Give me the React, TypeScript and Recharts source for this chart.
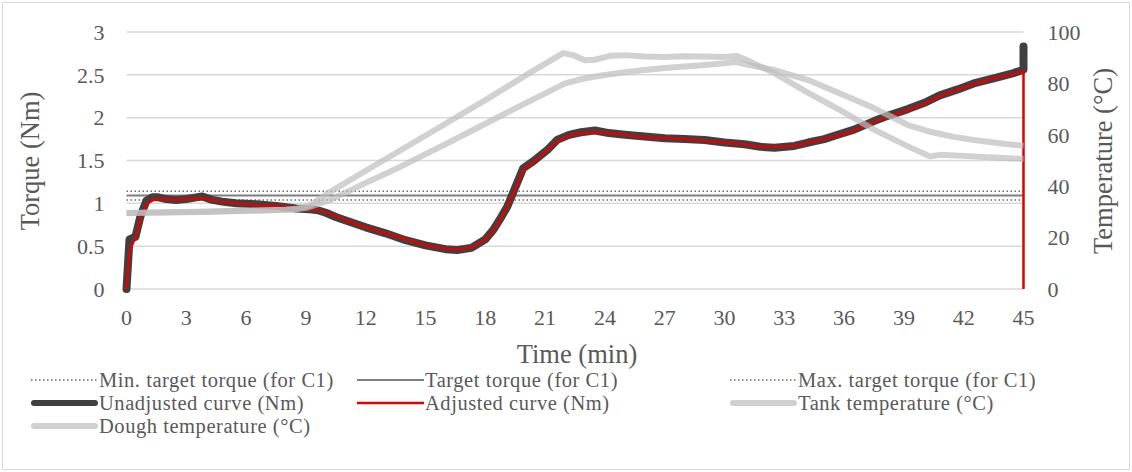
import React from 'react';
import { LineChart, Line, XAxis, YAxis, CartesianGrid } from 'recharts';

// torque curves share one time base; the last time is doubled for the end spike / drop
const torqueTimes = [
  0, 0.15, 0.45, 0.7, 1.0, 1.3, 1.6, 2.0, 2.5, 3.0, 3.5, 3.8, 4.3, 4.8, 5.5, 6.5, 7.5, 8.5,
  9.2, 9.6, 10.0, 10.5, 11, 12, 13, 14, 15, 16, 16.6, 17.3, 18, 18.4, 18.8, 19.1, 19.6, 19.9,
  20.4, 21.1, 21.6, 22.2, 22.8, 23.5, 24.2, 25, 26, 27, 28, 29, 30, 31, 31.8, 32.5, 33.5,
  34.2, 35, 35.8, 36.5, 37.5, 38.3, 39.2, 40, 40.8, 41.7, 42.5, 43.5, 44.5, 45, 45,
];
const unadjustedNm = [
  0, 0.58, 0.61, 0.85, 1.03, 1.07, 1.07, 1.05, 1.04, 1.05, 1.07, 1.08, 1.04, 1.02, 1.0, 0.99, 0.97, 0.94,
  0.93, 0.92, 0.89, 0.84, 0.8, 0.72, 0.65, 0.57, 0.51, 0.465, 0.455, 0.48, 0.58, 0.69, 0.84, 0.96, 1.24, 1.41,
  1.49, 1.62, 1.74, 1.8, 1.83, 1.85, 1.82, 1.8, 1.78, 1.76, 1.75, 1.74, 1.71, 1.69, 1.66, 1.65, 1.67,
  1.71, 1.75, 1.81, 1.86, 1.96, 2.03, 2.1, 2.17, 2.26, 2.33, 2.4, 2.46, 2.52, 2.56, 2.83,
];
const adjustedNm = [
  0, 0.45, 0.6, 0.82, 0.99, 1.04, 1.05, 1.05, 1.04, 1.05, 1.06, 1.06, 1.04, 1.02, 1.0, 0.98, 0.97, 0.95,
  0.93, 0.92, 0.9, 0.85, 0.8, 0.72, 0.65, 0.58, 0.51, 0.47, 0.46, 0.48, 0.58, 0.68, 0.83, 0.96, 1.22, 1.39,
  1.48, 1.62, 1.72, 1.79, 1.82, 1.83, 1.82, 1.8, 1.77, 1.76, 1.75, 1.73, 1.71, 1.69, 1.66, 1.66, 1.67,
  1.71, 1.75, 1.8, 1.85, 1.95, 2.02, 2.09, 2.16, 2.25, 2.33, 2.39, 2.46, 2.51, 2.54, 0,
];

const tankTimes = [
  0, 4, 8, 8.5, 9.2, 10.2, 12, 13.75, 16, 18, 20.1, 21.9, 22.4, 23, 23.5, 24.3, 25, 26, 27, 28, 29,
  30, 30.6, 31, 32.5, 34.2, 35.8, 37.5, 39.2, 40.3, 40.8, 42, 43.5, 45,
];
const tankTemp = [
  29.6, 30.2, 30.8, 31, 32.5, 37.7, 46, 54, 64.3, 73.5, 83.5, 91.8, 91, 89, 89.2, 90.8, 91, 90.5, 90.3, 90.6, 90.5,
  90.3, 90.7, 89.5, 84, 76.3, 69.6, 62, 55.5, 51.6, 52.2, 51.8, 51.2, 50.6,
];

const doughTimes = [
  0, 4, 8, 9, 10.2, 11, 12, 13.75, 14.75, 16, 18, 20, 22, 23, 24, 25, 26, 27, 28, 29, 30, 30.6,
  31, 32.5, 34.2, 35.8, 37.5, 39.2, 40.3, 41.5, 42.5, 44, 45,
];
const doughTemp = [
  29.6, 30, 30.8, 31.5, 34.6, 37.5, 41.3, 47.6, 51.5, 56.3, 64.3, 72.2, 80, 82, 83.3, 84.3, 85.2, 86, 86.6, 87.2, 87.8, 88.3,
  87.5, 85.2, 81.3, 76.1, 70.4, 63.8, 61.2, 59.2, 58, 56.5, 55.7,
];

const targetTorque = [1.04, 1.09, 1.14]; // min, target, max (C1)
const timeRange = [0, 45];

const timeTicks = [0, 3, 6, 9, 12, 15, 18, 21, 24, 27, 30, 33, 36, 39, 42, 45];
const torqueTicks = [0, 0.5, 1, 1.5, 2, 2.5, 3];
const tempTicks = [0, 20, 40, 60, 80, 100];

const torqueData = torqueTimes.map((t, i) => ({ t, unadjusted: unadjustedNm[i], adjusted: adjustedNm[i] }));
const tankData = tankTimes.map((t, i) => ({ t, v: tankTemp[i] }));
const doughData = doughTimes.map((t, i) => ({ t, v: doughTemp[i] }));
const targetLine = (v: number) => timeRange.map((t) => ({ t, v }));

const TEXT = '#595959';
const GRID = '#d9d9d9';
const TEMP = '#bdbdbd';
const FONT = '"Liberation Serif", "Times New Roman", serif';

const tickStyle = { fontSize: 22, fill: TEXT };

type Sample = { stroke: string; width: number; dash?: string; cap?: 'round' | 'butt' };

const legendItems: { label: string; col: number; row: number; s: Sample }[] = [
  { label: 'Min. target torque (for C1)', col: 0, row: 0, s: { stroke: '#6a6a6a', width: 1.5, dash: '1.5 2.5' } },
  { label: 'Target torque (for C1)', col: 1, row: 0, s: { stroke: '#7f7f7f', width: 2 } },
  { label: 'Max. target torque (for C1)', col: 2, row: 0, s: { stroke: '#6a6a6a', width: 1.5, dash: '1.5 2.5' } },
  { label: 'Unadjusted curve (Nm)', col: 0, row: 1, s: { stroke: '#404040', width: 6, cap: 'round' } },
  { label: 'Adjusted curve (Nm)', col: 1, row: 1, s: { stroke: '#e00000', width: 2.5 } },
  { label: 'Tank temperature (°C)', col: 2, row: 1, s: { stroke: '#d0d0d0', width: 6, cap: 'round' } },
  { label: 'Dough temperature (°C)', col: 0, row: 2, s: { stroke: '#d0d0d0', width: 6, cap: 'round' } },
];
const colX = [31, 357, 730];
const rowY = [380, 403, 426];

export default function App() {
  return (
    <div style={{ position: 'relative', width: 1132, height: 472, background: '#fff', fontFamily: FONT, color: TEXT }}>
      <style>{'body{margin:0}'}</style>
      <div
        style={{
          position: 'absolute', left: 2, top: 2, width: 1128, height: 468,
          boxSizing: 'border-box', border: `1.5px solid ${GRID}`,
        }}
      />
      <div style={{ position: 'absolute', left: 0, top: 0 }}>
        <LineChart width={1132} height={340} margin={{ top: 32, right: 48.5, bottom: 21, left: 66.5 }}>
          <CartesianGrid yAxisId="left" vertical={false} stroke={GRID} strokeWidth={1.5} />
          <XAxis
            type="number"
            dataKey="t"
            domain={timeRange}
            ticks={timeTicks}
            interval={0}
            axisLine={false}
            tickLine={false}
            tickSize={0}
            tickMargin={20}
            height={30}
            tick={tickStyle}
          />
          <YAxis
            yAxisId="left"
            domain={[0, 3]}
            ticks={torqueTicks}
            interval={0}
            axisLine={false}
            tickLine={false}
            tickSize={0}
            tickMargin={22}
            width={60}
            tick={tickStyle}
          />
          <YAxis
            yAxisId="right"
            orientation="right"
            domain={[0, 100]}
            ticks={tempTicks}
            interval={0}
            axisLine={false}
            tickLine={false}
            tickSize={0}
            tickMargin={24}
            width={60}
            tick={tickStyle}
          />
          <Line yAxisId="left" data={targetLine(targetTorque[0])} dataKey="v" stroke="#6a6a6a" strokeWidth={1.5} strokeDasharray="1.5 2.5" dot={false} activeDot={false} isAnimationActive={false} />
          <Line yAxisId="left" data={targetLine(targetTorque[1])} dataKey="v" stroke="#7f7f7f" strokeWidth={2} dot={false} activeDot={false} isAnimationActive={false} />
          <Line yAxisId="left" data={targetLine(targetTorque[2])} dataKey="v" stroke="#6a6a6a" strokeWidth={1.5} strokeDasharray="1.5 2.5" dot={false} activeDot={false} isAnimationActive={false} />
          <Line yAxisId="left" data={torqueData} dataKey="unadjusted" stroke="#404040" strokeWidth={8} strokeLinejoin="round" strokeLinecap="round" dot={false} activeDot={false} isAnimationActive={false} />
          <Line yAxisId="left" data={torqueData} dataKey="adjusted" stroke="#e00000" strokeWidth={2.5} dot={false} activeDot={false} isAnimationActive={false} />
          <Line yAxisId="right" data={tankData} dataKey="v" stroke={TEMP} strokeOpacity={0.7} strokeWidth={6} strokeLinejoin="round" dot={false} activeDot={false} isAnimationActive={false} />
          <Line yAxisId="right" data={doughData} dataKey="v" stroke={TEMP} strokeOpacity={0.7} strokeWidth={6} strokeLinejoin="round" dot={false} activeDot={false} isAnimationActive={false} />
        </LineChart>
      </div>

      <div style={{ position: 'absolute', left: 30, top: 160.5, transform: 'translate(-50%, -50%) rotate(-90deg)', fontSize: 26.5, whiteSpace: 'nowrap' }}>
        Torque (Nm)
      </div>
      <div style={{ position: 'absolute', left: 1103, top: 160.5, transform: 'translate(-50%, -50%) rotate(-90deg)', fontSize: 26.5, whiteSpace: 'nowrap' }}>
        Temperature (°C)
      </div>
      <div style={{ position: 'absolute', left: 577, top: 354, transform: 'translate(-50%, -50%)', fontSize: 26.5, whiteSpace: 'nowrap' }}>
        Time (min)
      </div>

      {legendItems.map((it) => (
        <div
          key={it.label}
          style={{ position: 'absolute', left: colX[it.col], top: rowY[it.row] - 10, height: 20, display: 'flex', alignItems: 'center', fontSize: 20.5, letterSpacing: 0.55, lineHeight: '20px', whiteSpace: 'nowrap' }}
        >
          <svg width={67} height={10} style={{ marginRight: 1 }}>
            <line
              x1={it.s.cap === 'round' ? 3 : 0}
              x2={it.s.cap === 'round' ? 64 : 67}
              y1={5}
              y2={5}
              stroke={it.s.stroke}
              strokeWidth={it.s.width}
              strokeDasharray={it.s.dash}
              strokeLinecap={it.s.cap ?? 'butt'}
            />
          </svg>
          <span style={{ lineHeight: '20px' }}>{it.label}</span>
        </div>
      ))}
    </div>
  );
}
